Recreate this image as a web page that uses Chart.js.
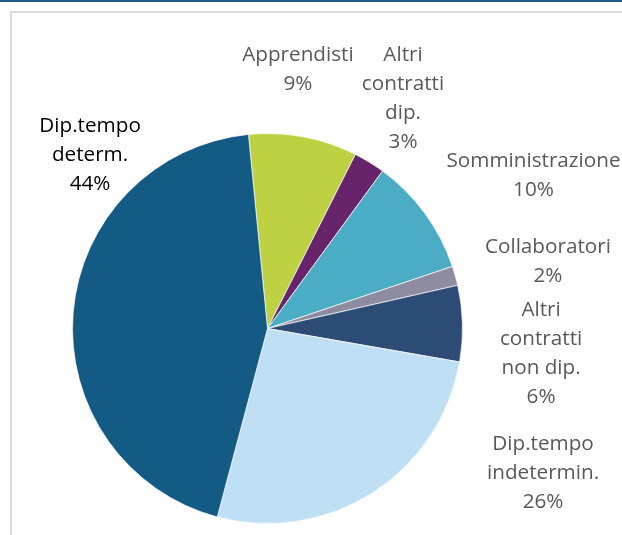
<!DOCTYPE html>
<html>
<head>
<meta charset="utf-8">
<script src="https://cdn.jsdelivr.net/npm/chart.js@4.4.0/dist/chart.umd.min.js"></script>
<style>
    html, body { margin: 0; padding: 0; background: #fff; }
    #wrap { position: relative; width: 622px; height: 535px; overflow: hidden; }
    #topline { position: absolute; left: 0; top: 0; width: 622px; height: 2px; background: #1b5a89; }
    #frame { position: absolute; left: 10px; top: 11px; width: 700px; height: 600px;
             border-left: 2px solid #dcdcdc; border-top: 2px solid #dcdcdc; }
    canvas { position: absolute; left: 0; top: 0; }
</style>
</head>
<body>
<div id="wrap">
    <div id="topline"></div>
    <div id="frame"></div>
    <canvas id="pieChart" width="622" height="535"></canvas>
</div>
<script>
// Categorie (righe di testo come nell'etichetta originale)
const categories = [
    ['Apprendisti'],
    ['Altri', 'contratti', 'dip.'],
    ['Somministrazione'],
    ['Collaboratori'],
    ['Altri', 'contratti', 'non dip.'],
    ['Dip.tempo', 'indetermin.'],
    ['Dip.tempo', 'determ.']
];

// Quote (%)
const shares = [9.0, 2.6, 9.8, 1.6, 6.3, 26.4, 44.3];

const sliceColors = ['#bdd142', '#67246b', '#4bacc6', '#8d8ca1', '#2c4c75', '#bfe0f4', '#135a85'];

// posizione etichette, in raggi rispetto al centro della torta
const labelPos = [
    [0.156, -1.331],
    [0.695, -1.187],
    [1.364, -0.790],
    [1.438, -0.349],
    [1.403, 0.123],
    [1.413, 0.738],
    [-0.910, -0.897]
];
const labelColors = ['#595959', '#595959', '#595959', '#595959', '#595959', '#595959', '#000000'];

// Plugin per disegnare le etichette esterne
const outsideLabels = {
    id: 'outsideLabels',
    afterDatasetsDraw(chart) {
        const ctx = chart.ctx;
        const arc = chart.getDatasetMeta(0).data[0];
        const cx = arc.x, cy = arc.y, r = arc.outerRadius;
        const total = shares.reduce((a, b) => a + b, 0);
        const lh = 29;
        ctx.save();
        ctx.font = '20.7px "Open Sans"';
        ctx.textAlign = 'center';
        ctx.textBaseline = 'alphabetic';
        categories.forEach((lines, i) => {
            const all = lines.concat([Math.round(shares[i] / total * 100) + '%']);
            const x = cx + labelPos[i][0] * r;
            const y = cy + labelPos[i][1] * r;
            const y0 = y - (all.length - 1) * lh / 2 + 7;
            ctx.fillStyle = labelColors[i];
            all.forEach((t, k) => ctx.fillText(t, x, y0 + k * lh));
        });
        ctx.restore();
    }
};

const ctx = document.getElementById('pieChart').getContext('2d');
new Chart(ctx, {
    type: 'pie',
    data: {
        labels: categories.map(l => l.join(' ')),
        datasets: [{
            data: shares,
            backgroundColor: sliceColors,
            borderColor: 'rgba(255,255,255,0.7)',
            borderWidth: 1
        }]
    },
    options: {
        responsive: false,
        animation: false,
        rotation: -5.6,
        layout: {
            padding: { left: 72, top: 133, right: 159, bottom: 11 }
        },
        plugins: {
            legend: { display: false },
            tooltip: { enabled: false }
        }
    },
    plugins: [outsideLabels]
});
</script>
</body>
</html>
